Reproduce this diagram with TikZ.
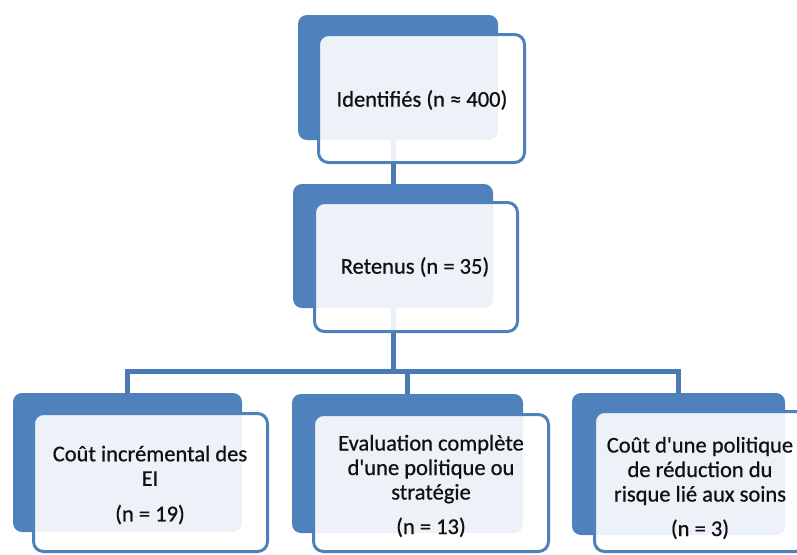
\documentclass[tikz,border=0pt]{standalone}
\usepackage{fontspec}
\setmainfont{Carlito}[Ligatures=TeXOff,FakeBold=0.7]
\definecolor{backblue}{HTML}{4F81BD}
\definecolor{linkblue}{HTML}{4A79B3}
\definecolor{txt}{HTML}{111111}
\begin{document}
\begin{tikzpicture}[x=1pt,y=-1pt,
  backbox/.style={rectangle,rounded corners=9pt,fill=backblue,inner sep=0pt},
  frontbox/.style={rectangle,rounded corners=10pt,fill=white,fill opacity=0.9,draw=backblue,line width=3pt,inner sep=0pt},
  label/.style={text=txt,align=center,inner sep=0pt,font=\fontsize{22.5}{24.5}\selectfont},
  link/.style={draw=linkblue,line width=5pt}]
\useasboundingbox (0,0) rectangle (797,554);
\clip (0,0) rectangle (797,554);
% back boxes
\node[backbox,minimum width=200pt,minimum height=125pt] (topback) at (398,77.5) {};
\node[backbox,minimum width=200pt,minimum height=124pt] (secback) at (393,246) {};
\node[backbox,minimum width=229pt,minimum height=139pt] (leftback) at (127.5,462.5) {};
\node[backbox,minimum width=231pt,minimum height=139pt] (midback) at (407.5,463.5) {};
\node[backbox,minimum width=213pt,minimum height=142pt] (rightback) at (678.5,464) {};
% connectors
\coordinate (hub) at (393,371.5);
\draw[link] (secback.north |- topback.south) -- (secback.north);
\draw[link] (secback.south) -- (hub);
\draw[link] (leftback.north) -- (leftback.north |- hub) -- (rightback.north |- hub) -- (rightback.north);
\draw[link] (midback.north |- hub) -- (midback.north);
% front boxes
\node[frontbox,minimum width=206pt,minimum height=128pt] (topfront) at (421.5,98.5) {};
\node[frontbox,minimum width=203pt,minimum height=129pt] (secfront) at (416,267) {};
\node[frontbox,minimum width=234pt,minimum height=138pt] (leftfront) at (150.5,482.5) {};
\node[frontbox,minimum width=235pt,minimum height=137pt] (midfront) at (431,483) {};
\node[frontbox,minimum width=211pt,minimum height=140pt] (rightfront) at (700,481.5) {};
% texts
\node[label] (toptext) at (422,100) {Identifiés (n ≈ 400)};
\node[label] (sectext) at (415,267) {Retenus (n = 35)};
\node[label] (lefttext) at (150,485) {Coût incrémental des\\EI\\[11pt](n = 19)};
\node[label] (midtext) at (431,486) {Evaluation complète\\d'une politique ou\\stratégie\\[10pt](n = 13)};
\node[label] (righttext) at (700,488) {Coût d'une politique\\de réduction du\\risque lié aux soins\\[10pt](n = 3)};
\end{tikzpicture}
\end{document}
